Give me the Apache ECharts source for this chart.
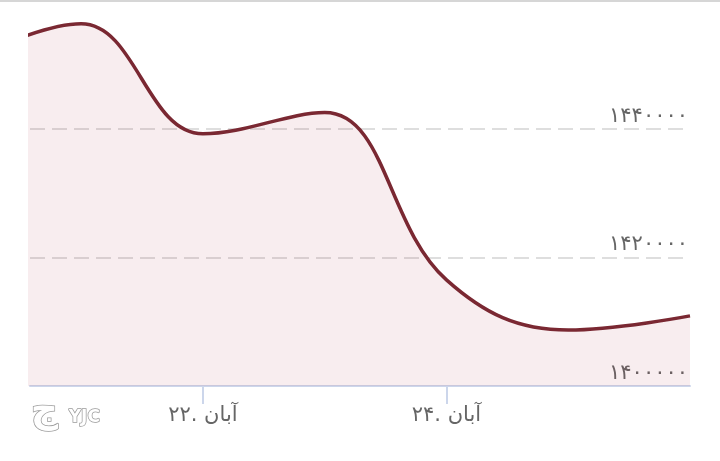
<!DOCTYPE html>
<html>
<head>
<meta charset="utf-8">
<script src="https://cdn.jsdelivr.net/npm/echarts@6/dist/echarts.min.js"></script>
<style>
  html, body { margin: 0; padding: 0; background: #fff; }
  #chart { width: 720px; height: 461px; }
</style>
</head>
<body>
<div id="chart"></div>
<script>
  // روزهای آبان و مقادیر
  const days = [20, 21, 22, 23, 24, 25, 26];
  const values = [1450000, 1456300, 1439200, 1442500, 1416500, 1408700, 1410900];
  const dayTicks = [22, 24];
  const monthName = 'آبان';

  const faDigits = '۰۱۲۳۴۵۶۷۸۹';
  const toFa = (s) => String(s).replace(/\d/g, (d) => faDigits[d]);

  const lineColor = '#7a2832';
  const labelFont = 'DejaVu Sans';

  const chart = echarts.init(document.getElementById('chart'));

  const option = {
    backgroundColor: '#fff',
    animation: false,
    grid: { left: 30, right: 30, top: 0, bottom: 75 },
    xAxis: {
      type: 'value',
      min: 20.58,
      max: 26,
      axisLine: { show: true, lineStyle: { color: '#ccd6eb', width: 2 } },
      axisTick: {
        show: true,
        customValues: dayTicks,
        length: 18,
        lineStyle: { color: '#ccd6eb', width: 2 }
      },
      axisLabel: {
        customValues: dayTicks,
        margin: 19,
        color: '#666',
        fontSize: 21,
        fontFamily: labelFont,
        formatter: (v) => toFa(v) + '. ' + monthName
      },
      splitLine: { show: false }
    },
    yAxis: {
      type: 'value',
      position: 'right',
      min: 1400000,
      max: 1460000,
      interval: 20000,
      axisLine: { show: false },
      axisTick: { show: false },
      axisLabel: {
        inside: true,
        margin: 2,
        showMaxLabel: false,
        verticalAlign: 'bottom',
        padding: [0, 0, 2, 0],
        color: '#666',
        fontSize: 21,
        fontFamily: labelFont,
        formatter: (v) => toFa(v)
      },
      splitLine: {
        show: true,
        showMinLine: false,
        showMaxLine: false,
        lineStyle: { color: '#dedede', width: 2, type: [15, 7] }
      }
    },
    series: [
      {
        type: 'line',
        data: days.map((d, i) => [d, values[i]]),
        smooth: 0.4,
        symbol: 'none',
        clip: true,
        lineStyle: { color: lineColor, width: 3.5 },
        areaStyle: { color: 'rgba(160, 30, 55, 0.11)' }
      }
    ],
    graphic: [
      {
        type: 'rect',
        left: 0,
        top: 0,
        shape: { width: 720, height: 2 },
        style: { fill: '#d6d6d6' }
      },
      {
        type: 'text',
        left: 30,
        top: 392,
        style: {
          text: 'ج',
          font: 'bold 38px "DejaVu Sans"',
          fill: '#fff',
          stroke: '#9a9a9a',
          lineWidth: 1.5
        }
      },
      {
        type: 'text',
        left: 68,
        top: 408,
        style: {
          text: 'YJC',
          font: 'bold 17px "DejaVu Sans"',
          fill: '#fff',
          stroke: '#9a9a9a',
          lineWidth: 1.5
        }
      }
    ]
  };

  chart.setOption(option);
</script>
</body>
</html>
